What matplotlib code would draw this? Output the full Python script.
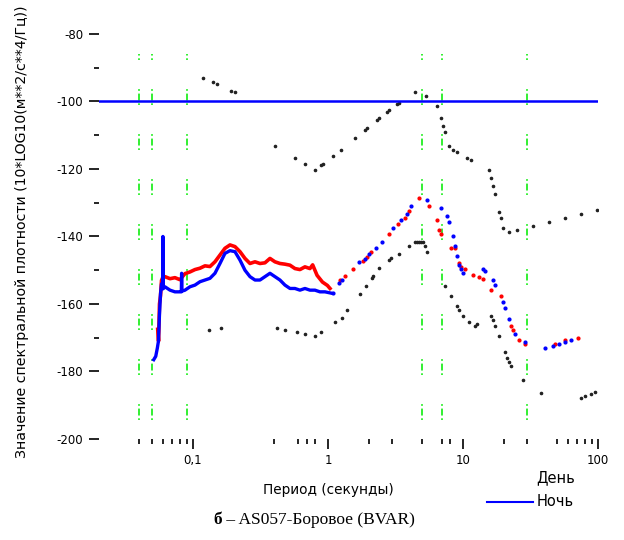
import matplotlib
matplotlib.use('Agg')
import matplotlib.pyplot as plt
from matplotlib.ticker import FixedLocator, FixedFormatter, NullFormatter
from matplotlib.lines import Line2D

plt.rcParams['font.family'] = ['DejaVu Sans']
plt.rcParams['axes.unicode_minus'] = False
plt.rcParams['lines.scale_dashes'] = False

# --- data ---
# high noise model (black dots, upper)
nhnm_period = [0.119, 0.141, 0.151, 0.192, 0.206, 0.405, 0.573, 0.679, 0.805, 0.892, 0.923,
               1.094, 1.259, 1.59, 1.88, 1.94, 2.32, 2.40, 2.75, 2.84, 3.26, 3.36, 4.43,
               5.29, 6.42, 6.87, 7.11, 7.36, 7.88, 8.43, 9.03, 10.7, 11.5, 15.6, 16.1,
               16.7, 17.3, 18.5, 19.1, 19.8, 21.9, 25.1, 33.0, 43.4, 57.0, 74.8, 98.3]
nhnm_db = [-93.1, -94.3, -94.9, -96.8, -97.3, -113.2, -116.7, -118.5, -120.3, -118.9, -118.4,
           -116.2, -114.4, -110.9, -108.5, -107.9, -105.6, -105.0, -103.2, -102.6, -100.7, -100.4, -97.3,
           -98.5, -101.4, -105.0, -107.3, -109.1, -113.2, -114.4, -115.0, -116.8, -117.4, -120.3, -122.7,
           -125.0, -127.4, -132.7, -134.5, -137.4, -138.7, -138.1, -136.8, -135.7, -134.5, -133.3, -132.1]

# low noise model (black dots, lower)
nlnm_period = [0.131, 0.162, 0.421, 0.483, 0.593, 0.679, 0.805, 0.892, 1.13, 1.26, 1.39,
               1.72, 1.90, 2.11, 2.17, 2.40, 2.85, 2.94, 3.37, 4.00, 4.41, 4.55, 4.72, 4.88, 5.05,
               5.26, 5.44, 7.36, 8.15, 9.03, 9.34, 10.0, 11.1, 12.3, 12.7, 16.1, 16.7,
               17.3, 18.5, 20.5, 21.2, 21.9, 22.7, 27.8, 37.8, 74.5, 79.7, 88.3, 94.6]
nlnm_db = [-167.7, -167.1, -167.1, -167.7, -168.3, -168.9, -169.5, -168.3, -165.3, -164.1, -161.8,
           -157.1, -154.8, -152.4, -151.8, -149.4, -147.0, -146.4, -145.1, -142.7, -141.5, -141.5, -141.5, -141.5, -141.5,
           -142.7, -144.5, -154.8, -157.7, -160.7, -161.9, -163.6, -165.4, -166.6, -166.0, -163.6, -164.8,
           -166.6, -169.6, -174.2, -176.0, -177.2, -178.4, -182.5, -186.5, -187.9, -187.3, -186.7, -186.1]

# day (red) - dense part
day_period = [0.0548, 0.0556, 0.0565, 0.0575, 0.0585, 0.0600, 0.0620, 0.0676, 0.0735, 0.0801,
              0.0873, 0.0950, 0.1035, 0.1127, 0.1227, 0.1336, 0.1455, 0.1585, 0.1726, 0.1880,
              0.2047, 0.2230, 0.2428, 0.2644, 0.2880, 0.3135, 0.3414, 0.3718, 0.4048, 0.4409,
              0.4801, 0.5229, 0.5693, 0.6200, 0.6752, 0.7352, 0.7700, 0.8300, 0.9100, 0.9900, 1.035]
day_db = [-167.5, -171.0, -160.0, -157.5, -153.0, -152.0, -151.9, -152.5, -152.2, -152.8,
          -151.0, -150.5, -149.8, -149.4, -148.7, -148.9, -147.5, -145.5, -143.5, -142.5,
          -143.0, -144.5, -146.5, -148.0, -147.5, -148.0, -147.8, -146.5, -147.5, -148.0,
          -148.2, -148.5, -149.5, -149.8, -149.0, -149.5, -148.4, -151.5, -153.5, -154.5, -155.4]

# night (blue) - dense part
night_period = [0.0512, 0.0530, 0.0545, 0.0555, 0.0565, 0.0575, 0.0585, 0.0597, 0.0599, 0.0601,
                0.0620, 0.0676, 0.0735, 0.0801, 0.0820, 0.0824, 0.0828, 0.0873, 0.0950, 0.1035,
                0.1127, 0.1227, 0.1336, 0.1455, 0.1585, 0.1726, 0.1880, 0.2047, 0.2230, 0.2428,
                0.2644, 0.2880, 0.3135, 0.3414, 0.3718, 0.4048, 0.4409, 0.4801, 0.5229, 0.5693,
                0.6200, 0.6752, 0.7352, 0.8007, 0.8720, 0.9501, 1.060]
night_db = [-176.5, -175.5, -173.0, -171.0, -163.0, -157.0, -154.0, -155.0, -140.0, -155.5,
            -154.9, -155.9, -156.4, -156.4, -156.4, -150.9, -156.2, -155.9, -154.9, -154.4,
            -153.4, -152.9, -152.4, -150.9, -148.0, -145.0, -144.2, -144.5, -147.0, -150.0,
            -151.9, -152.9, -152.9, -151.9, -150.9, -151.9, -152.9, -154.4, -155.4, -155.4,
            -155.9, -155.4, -155.9, -155.9, -156.4, -156.4, -156.8]

# day (red) - sparse points
day_pts_period = [1.227, 1.336, 1.539, 1.807, 1.935, 2.072, 2.845, 3.283, 3.719, 3.981,
                  4.722, 5.600, 6.419, 6.642, 6.871, 8.150, 8.726, 9.341, 9.665, 10.34,
                  11.86, 13.14, 14.07, 16.12, 19.12, 22.68, 23.47, 25.99, 28.79, 48.03,
                  56.95, 71.46]
day_pts_db = [-152.9, -151.7, -149.5, -147.2, -146.0, -144.5, -139.2, -136.2, -134.4, -132.4,
              -128.5, -131.0, -135.1, -138.1, -139.2, -143.3, -143.3, -147.8, -149.0, -149.6,
              -151.4, -151.9, -152.6, -155.9, -157.7, -166.6, -167.8, -170.8, -171.9, -171.9,
              -170.7, -170.2]

# night (blue) - sparse points
night_pts_period = [1.095, 1.212, 1.263, 1.705, 1.889, 2.022, 2.256, 2.499, 3.045, 3.473,
                    3.828, 4.120, 5.412, 6.871, 7.610, 7.914, 8.433, 8.726, 9.029, 9.341,
                    9.665, 10.0, 14.07, 14.55, 16.68, 17.26, 19.79, 20.47, 21.91, 24.28,
                    28.79, 40.50, 46.42, 51.41, 56.95, 63.10]
night_pts_db = [-156.8, -153.7, -152.9, -147.6, -146.7, -145.2, -143.3, -141.5, -137.4, -135.1,
                -133.3, -131.0, -129.2, -131.6, -133.8, -135.7, -139.8, -142.7, -145.7, -148.4,
                -149.6, -150.7, -149.6, -150.2, -153.0, -154.3, -159.5, -161.3, -164.3, -168.9,
                -171.3, -173.0, -172.4, -171.9, -171.3, -170.7]

marker_periods = [0.04, 0.05, 0.09, 5, 7, 30]
level_db = -100

x_ticks = [0.1, 1, 10, 100]
x_ticklabels = ['0,1', '1', '10', '100']
x_minor = [0.04, 0.05, 0.06, 0.07, 0.08, 0.09, 0.4, 0.6, 0.7, 0.8,
           2, 3, 5, 7, 8, 20, 30, 50, 60, 70, 80, 90]
y_ticks = [-80, -100, -120, -140, -160, -180, -200]
y_minor = [-90, -110, -130, -150, -170]

# --- figure ---
fig = plt.figure(figsize=(6.24, 5.4), dpi=100)
ax = fig.add_axes([98.6 / 624, 101 / 540, 499.4 / 624, 421.9 / 540])

# green dash-dot markers
ax.vlines(marker_periods, -200, -86, colors='#22ee22', linewidth=1.3,
          linestyles=[(18.7, (1.2, 2.0, 5.0, 2.0, 1.2, 21.0))], zorder=1)

ax.plot(nhnm_period, nhnm_db, linestyle='none', marker='o', markersize=1.6, color='#222222', zorder=2)
ax.plot(nlnm_period, nlnm_db, linestyle='none', marker='o', markersize=1.6, color='#222222', zorder=2)

ax.plot(day_period, day_db, color='red', linewidth=2.6, zorder=3)
ax.plot(night_period, night_db, color='blue', linewidth=2.4, zorder=4)
ax.plot(day_pts_period, day_pts_db, linestyle='none', marker='o', markersize=2.0, color='red', zorder=3)
ax.plot(night_pts_period, night_pts_db, linestyle='none', marker='o', markersize=2.0, color='blue', zorder=4)

ax.axhline(level_db, color='blue', linewidth=1.8, zorder=5)

ax.set_xscale('log')
ax.set_xlim(0.02, 100)
ax.set_ylim(-200, -75)

for s in ax.spines.values():
    s.set_visible(False)

ax.xaxis.set_major_locator(FixedLocator(x_ticks))
ax.xaxis.set_major_formatter(FixedFormatter(x_ticklabels))
ax.xaxis.set_minor_locator(FixedLocator(x_minor))
ax.xaxis.set_minor_formatter(NullFormatter())
ax.yaxis.set_major_locator(FixedLocator(y_ticks))
ax.yaxis.set_minor_locator(FixedLocator(y_minor))

ax.tick_params(axis='both', which='major', direction='out', length=7, width=1.2,
               labelsize=8.5, color='black', pad=4)
ax.tick_params(axis='both', which='minor', direction='out', length=3.5, width=1.2, color='black')

fig.text(328 / 624, 1 - 490 / 540, 'Период (секунды)', fontsize=9.8, ha='center', va='center')
fig.text(22 / 624, 1 - 232 / 540, 'Значение спектральной плотности (10*LOG10(м**2/с**4/Гц))',
         rotation=90, ha='center', va='center', fontsize=10.2)

# legend drawn below the axes, at the right
fig.text(536 / 624, 1 - 478 / 540, 'День', fontsize=10.5, va='center', ha='left')
fig.text(537 / 624, 1 - 502 / 540, 'Ночь', fontsize=10.5, va='center', ha='left')
fig.add_artist(Line2D([487 / 624, 533 / 624], [1 - 502 / 540, 1 - 502 / 540],
                      color='blue', linewidth=1.5, transform=fig.transFigure))

# caption
cap_y = 1 - 520 / 540
t1 = fig.text(213 / 624, cap_y, 'б', family='Liberation Serif', fontweight='bold',
              fontsize=12.5, va='center', ha='left')
fig.canvas.draw()
bb = t1.get_window_extent()
fig.text(bb.x1 / fig.bbox.width, cap_y, ' – AS057-Боровое (BVAR)', family='Liberation Serif',
         fontsize=12.5, va='center', ha='left')

fig.savefig('out.png', dpi=100)
